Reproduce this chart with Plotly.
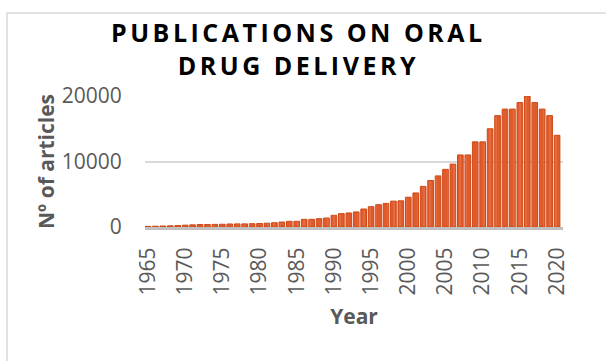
import plotly.graph_objects as go

years = list(range(1965, 2021))
articles = [100, 120, 150, 180, 220, 280, 330, 380, 380, 400,
            420, 460, 470, 480, 500, 540, 580, 650, 760, 870,
            870, 1170, 1170, 1270, 1370, 1780, 2040, 2140, 2300, 2750,
            3100, 3400, 3600, 3950, 4000, 4550, 5200, 6200, 7100, 7800,
            8800, 9600, 11000, 11000, 13000, 13000, 15000, 17000, 18000, 18000,
            19000, 20000, 19000, 18000, 17000, 14000]
x_ticks = list(range(1965, 2021, 5))
y_ticks = [0, 10000, 20000]

title_text = ('<span style="letter-spacing:3.5px">PUBLICATIONS ON ORAL</span><br>'
              '<span style="letter-spacing:3.5px">DRUG DELIVERY</span>')

fig = go.Figure(go.Bar(
    x=years, y=articles,
    marker=dict(color="#E05A2B", line=dict(color="#CF4816", width=1),
                pattern=dict(shape="|", fgcolor="#F2A27F", size=6, solidity=0.15)),
    cliponaxis=False,
))

W, H = 606, 361
L, R, T, B = 145, 43, 96, 134
pw, ph = W - L - R, H - T - B

def px(xp):
    return (xp - L) / pw

def py(yp):
    return (H - B - yp) / ph

fig.update_layout(
    width=W, height=H,
    margin=dict(l=L, r=R, t=T, b=B, pad=0),
    paper_bgcolor="white", plot_bgcolor="white",
    bargap=0.24,
    showlegend=False,
    font=dict(family="Open Sans", color="#595959"),
    annotations=[dict(
        text=title_text, xref="paper", yref="paper",
        x=px(298), y=py(49), xanchor="center", yanchor="middle",
        showarrow=False, align="center",
        font=dict(family="Open Sans", size=25, color="black", weight="bold"),
    )],
    shapes=[dict(type="rect", xref="paper", yref="paper",
                 x0=px(7), x1=px(640), y0=py(400), y1=py(13),
                 line=dict(color="#D9D9D9", width=1.5), fillcolor="rgba(0,0,0,0)", layer="below")],
    xaxis=dict(
        range=[1964.6, 2020.8],
        tickmode="array", tickvals=x_ticks, ticktext=[str(v) for v in x_ticks],
        tickangle=-90, tickfont=dict(size=21, color="#595959"),
        ticks="outside", ticklen=9, tickcolor="rgba(0,0,0,0)",
        showgrid=False, showline=True, linecolor="#BFBFBF", linewidth=3,
        title=dict(text="Year", font=dict(size=21, color="#595959", weight="bold"), standoff=15),
        automargin=False,
    ),
    yaxis=dict(
        range=[0, 20000],
        tickmode="array", tickvals=y_ticks, ticktext=[str(v) for v in y_ticks],
        tickfont=dict(size=21, color="#595959"),
        ticks="outside", ticklen=18, tickcolor="rgba(0,0,0,0)",
        showgrid=True, gridcolor="#D9D9D9", gridwidth=1.5,
        zeroline=False, showline=False,
        title=dict(text="Nº of articles", font=dict(size=21, color="#595959", weight="bold"), standoff=1),
        automargin=False,
    ),
)

fig.write_html("out.html")
